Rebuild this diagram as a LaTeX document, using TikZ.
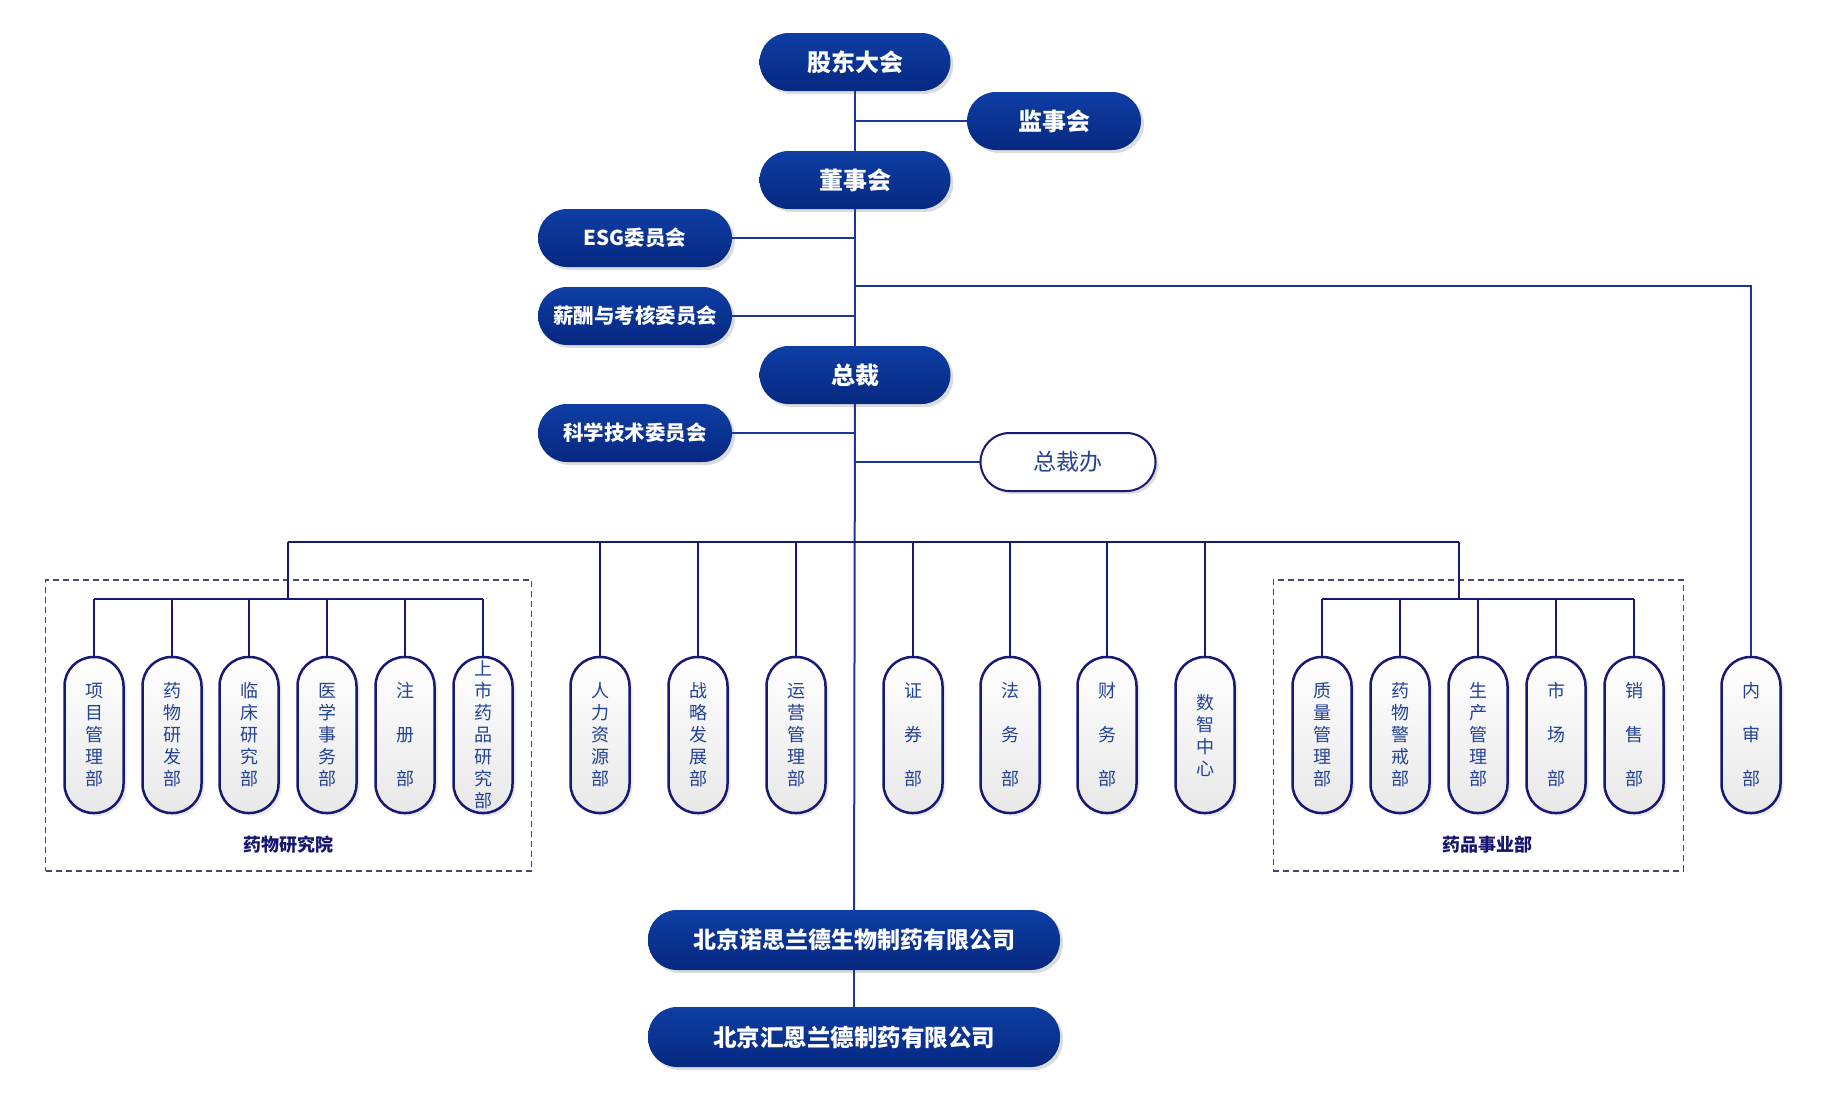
\documentclass[tikz,border=0pt]{standalone}
\usepackage{fontspec}
\setmainfont{Noto Sans CJK SC}
\usetikzlibrary{shadows}
\definecolor{boxtop}{RGB}{14,62,164}
\definecolor{boxbot}{RGB}{6,40,128}
\definecolor{lineblue}{RGB}{26,56,156}
\definecolor{navy}{RGB}{24,24,118}
\definecolor{pilltext}{RGB}{36,66,150}
\definecolor{grptext}{RGB}{22,22,112}
\definecolor{dashcol}{RGB}{70,70,110}
\begin{document}
\begin{tikzpicture}[x=1pt,y=-1pt,
  shadowed/.style={drop shadow={shadow xshift=3pt,shadow yshift=-3pt,fill=black!30,opacity=0.45}},
  mainbox/.style={rectangle,rounded corners=29pt,top color=boxtop,bottom color=boxbot,draw=none,
    text=white,font=\bfseries\fontsize{24}{28}\selectfont,minimum width=191pt,minimum height=58pt,
    inner sep=0pt,shadowed},
  combox/.style={mainbox,minimum width=194pt,font=\bfseries\fontsize{20.5}{24}\selectfont},
  compbox/.style={mainbox,minimum width=412pt,minimum height=60pt},
  whitebox/.style={rectangle,rounded corners=29pt,fill=white,draw=navy,line width=2pt,
    text=pilltext,font=\fontsize{23}{27}\selectfont,minimum width=175pt,minimum height=58pt,
    inner sep=0pt,shadowed},
  pill/.style={rectangle,rounded corners=29pt,draw=navy,line width=2.5pt,top color=white,
    bottom color=black!9,minimum width=59pt,minimum height=156pt,inner sep=0pt,text=pilltext,
    font=\fontsize{18}{22}\selectfont,align=center,
    drop shadow={shadow xshift=3pt,shadow yshift=-3pt,fill=black!20,opacity=0.4}},
  dashbox/.style={rectangle,draw=dashcol,line width=1.2pt,dash pattern=on 6pt off 4pt,inner sep=0pt},
  grplabel/.style={text=grptext,font=\bfseries\fontsize{18}{22}\selectfont,inner sep=0pt},
  upline/.style={draw=lineblue,line width=2pt},
  lowline/.style={draw=navy,line width=2.5pt}
]
\useasboundingbox (0,0) rectangle (1826,1101);

% dashed group frames
\node[dashbox,minimum width=486pt,minimum height=291pt] (frameL) at (288.75,725.5) {};
\node[dashbox,minimum width=410pt,minimum height=291pt] (frameR) at (1478.25,725.5) {};
\node[grplabel] (labL) at (288,845) {药物研究院};
\node[grplabel] (labR) at (1487,845) {药品事业部};

% top boxes
\node[mainbox] (gd) at (855,62) {股东大会};
\node[mainbox,minimum width=174pt] (jsh) at (1054,121) {监事会};
\node[mainbox] (dsh) at (855,180) {董事会};
\node[combox] (esg) at (635,238) {ESG委员会};
\node[combox] (xc) at (635,316) {薪酬与考核委员会};
\node[mainbox] (zc) at (855,375) {总裁};
\node[combox] (kx) at (635,433) {科学技术委员会};
\node[whitebox] (zcb) at (1068,462) {总裁办};

% companies
\node[compbox,font=\bfseries\fontsize{23}{27}\selectfont] (c1) at (854,940) {北京诺思兰德生物制药有限公司};
\node[compbox,font=\bfseries\fontsize{23.5}{28}\selectfont] (c2) at (854,1037) {北京汇恩兰德制药有限公司};

% pills: left group
\node[pill] (p1) at (94,735) {项\\目\\管\\理\\部};
\node[pill] (p2) at (172,735) {药\\物\\研\\发\\部};
\node[pill] (p3) at (249,735) {临\\床\\研\\究\\部};
\node[pill] (p4) at (327,735) {医\\学\\事\\务\\部};
\node[pill] (p5) at (405,735) {注\\[22pt]册\\[22pt]部};
\node[pill] (p6) at (483,735) {上\\市\\药\\品\\研\\究\\部};
% middle
\node[pill] (m1) at (600,735) {人\\力\\资\\源\\部};
\node[pill] (m2) at (698,735) {战\\略\\发\\展\\部};
\node[pill] (m3) at (796,735) {运\\营\\管\\理\\部};
\node[pill] (m4) at (913,735) {证\\[22pt]券\\[22pt]部};
\node[pill] (m5) at (1010,735) {法\\[22pt]务\\[22pt]部};
\node[pill] (m6) at (1107,735) {财\\[22pt]务\\[22pt]部};
\node[pill] (m7) at (1205,735) {数\\智\\中\\心};
% right group
\node[pill] (r1) at (1322,735) {质\\量\\管\\理\\部};
\node[pill] (r2) at (1400,735) {药\\物\\警\\戒\\部};
\node[pill] (r3) at (1478,735) {生\\产\\管\\理\\部};
\node[pill] (r4) at (1556,735) {市\\[22pt]场\\[22pt]部};
\node[pill] (r5) at (1634,735) {销\\[22pt]售\\[22pt]部};
% audit
\node[pill] (ns) at (1751,735) {内\\[22pt]审\\[22pt]部};

% trunk
\draw[upline] (gd) -- (dsh);
\draw[upline] (dsh) -- (zc);
\draw[upline] (zc) -- (c1);
\draw[upline] (c1) -- (c2);
% side branches
\draw[upline] (jsh) -- (gd |- jsh);
\draw[upline] (esg) -- (gd |- esg);
\draw[upline] (xc) -- (gd |- xc);
\draw[upline] (kx) -- (gd |- kx);
\draw[upline] (zcb) -- (gd |- zcb);
\coordinate (nsj) at (855,286);
\draw[upline] (nsj) -| (ns.north);

% main bus
\coordinate (busL) at (288,542);
\coordinate (busR) at (1459,542);
\coordinate (gL) at (288,599);
\coordinate (gR) at (1459,599);
\draw[lowline] (busL) -- (busR);
\draw[lowline] (busL) -- (gL);
\draw[lowline] (busR) -- (gR);
\draw[lowline] (p1.north |- gL) -- (p6.north |- gL);
\draw[lowline] (r1.north |- gR) -- (r5.north |- gR);
\foreach \n in {p1,p2,p3,p4,p5,p6}{\draw[lowline] (\n.north) -- (\n.north |- gL);}
\foreach \n in {r1,r2,r3,r4,r5}{\draw[lowline] (\n.north) -- (\n.north |- gR);}
\foreach \n in {m1,m2,m3,m4,m5,m6,m7}{\draw[lowline] (\n.north) -- (\n.north |- busL);}
\end{tikzpicture}
\end{document}
